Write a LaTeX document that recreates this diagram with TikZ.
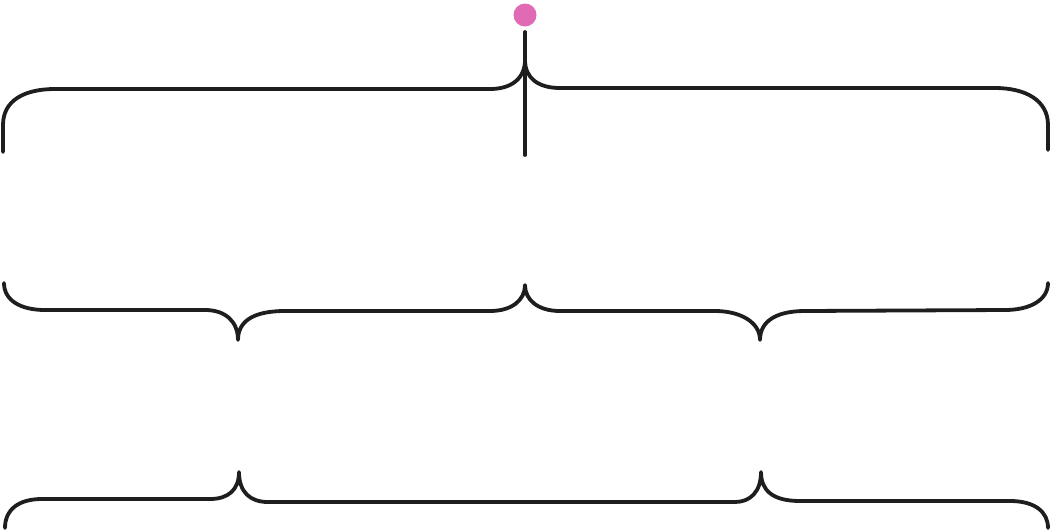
\documentclass[tikz,border=0pt]{standalone}
\usepackage{tikz}
\definecolor{inkblack}{HTML}{1E1E1E}
\definecolor{dotpink}{HTML}{E06AB4}
\tikzset{
  brace line/.style={draw=inkblack, line width=3.8pt, line cap=round, line join=round}
}

\begin{document}
\begin{tikzpicture}[x=1pt,y=-1pt]
\useasboundingbox (0,0) rectangle (1051,530);
% tips of the braces
\coordinate (toptip) at (525,60);
\coordinate (midtipA) at (238,340);
\coordinate (midtipB) at (525,285);
\coordinate (midtipC) at (760,340);
\coordinate (bottipA) at (239,472);
\coordinate (bottipB) at (761,472);
% top brace with the stem and the dot
\fill[dotpink] (525,15) circle (11.5);
\draw[brace line] (525,32) -- (525,155);
\draw[brace line] (3,152) -- (3,125) .. controls (3,100) and (25,89) .. (55,89)
  -- (490,89) .. controls (512,89) and (525,78) .. (toptip)
  .. controls (525,78) and (538,88) .. (560,88)
  -- (995,88) .. controls (1025,88) and (1048,100) .. (1048,125) -- (1048,150);
% middle brace
\draw[brace line] (4,283) .. controls (4,300) and (20,310) .. (45,310)
  -- (205,310) .. controls (226,310) and (238,322) .. (midtipA)
  .. controls (238,322) and (252,311) .. (285,311)
  -- (490,311) .. controls (512,311) and (525,300) .. (midtipB)
  .. controls (525,300) and (538,311) .. (560,311)
  -- (715,311) .. controls (740,311) and (760,322) .. (midtipC)
  .. controls (760,322) and (775,311) .. (805,311)
  -- (1005,310) .. controls (1030,310) and (1048,300) .. (1048,283);
% bottom brace
\draw[brace line] (5,528) .. controls (5,510) and (18,499) .. (42,499)
  -- (210,499) .. controls (228,499) and (239,490) .. (bottipA)
  .. controls (239,492) and (250,502) .. (268,502)
  -- (735,502) .. controls (750,502) and (761,492) .. (bottipB)
  .. controls (761,490) and (772,501) .. (800,501)
  -- (1010,501) .. controls (1035,501) and (1048,512) .. (1048,528);
\end{tikzpicture}
\end{document}
